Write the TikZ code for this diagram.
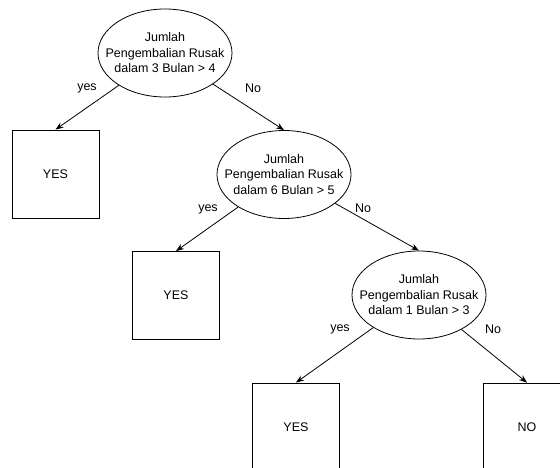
\documentclass[tikz,border=0pt]{standalone}
\usepackage{fontspec}
\setmainfont{Liberation Sans}
\usepackage{tikz}
\usetikzlibrary{shapes.geometric}
\usetikzlibrary{arrows.meta}
\tikzset{>={Stealth[width=6pt,length=8pt]}}

\begin{document}
\begin{tikzpicture}[
    x = 1pt, y = -1pt,
    font = \fontsize{12.5}{15.5}\selectfont,
    test/.style = {draw, ellipse, line width=0.8pt, inner sep=0pt,
        minimum width=134pt, minimum height=88pt},
    leaf/.style = {draw, line width=0.8pt, minimum width=87pt,
        minimum height=88pt},
    lbl/.style = {inner sep=0pt},
    arr/.style = {->, line width=0.8pt}
  ]
  \useasboundingbox (0,0) rectangle (560,468);
  \clip (0,0) rectangle (560,468);

  \node[test, label={[align=center]center:Jumlah\\Pengembalian Rusak\\dalam 3 Bulan > 4}] (Q1) at (165,53) {};
  \node[test, label={[align=center]center:Jumlah\\Pengembalian Rusak\\dalam 6 Bulan > 5}] (Q2) at (284,174.5) {};
  \node[test, label={[align=center]center:Jumlah\\Pengembalian Rusak\\dalam 1 Bulan > 3}] (Q3) at (419,295) {};

  \node[leaf] (Y1) at (55.5,174) {YES};
  \node[leaf] (Y2) at (176,295.5) {YES};
  \node[leaf] (Y3) at (296,427) {YES};
  \node[leaf] (N3) at (527,427) {NO};

  \draw[arr] (Q1) -- (Y1.north);
  \draw[arr] (Q1) -- (Q2.north);
  \draw[arr] (Q2) -- (Y2.north);
  \draw[arr] (Q2) -- (Q3.north);
  \draw[arr] (Q3) -- (Y3.north);
  \draw[arr] (Q3) -- (N3.north);

  \node[lbl] (L1) at (87,88) {yes};
  \node[lbl] (L2) at (253,88) {No};
  \node[lbl] (L3) at (208,209) {yes};
  \node[lbl] (L4) at (363,208) {No};
  \node[lbl] (L5) at (340,329) {yes};
  \node[lbl] (L6) at (493,329) {No};
\end{tikzpicture}
\end{document}
